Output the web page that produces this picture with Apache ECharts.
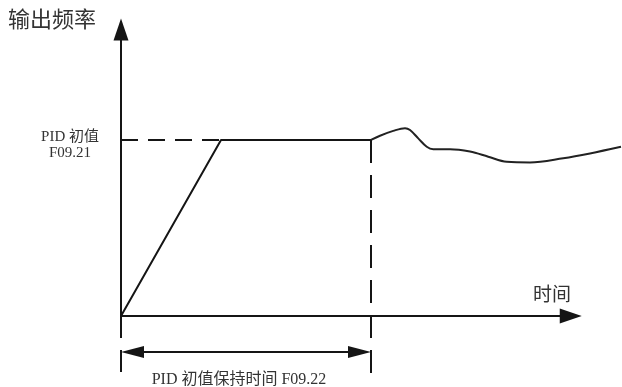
<!DOCTYPE html>
<html>
<head>
<meta charset="utf-8">
<script src="https://cdn.jsdelivr.net/npm/echarts@6/dist/echarts.min.js"></script>
<style>
  html, body { margin: 0; padding: 0; background: #fff; }
  #main { width: 622px; height: 387px; }
</style>
</head>
<body>
<div id="main"></div>
<script>
// time axis: 0..20, frequency axis: -20..100 (arbitrary units)
const rampTime = [0, 4, 10];
const rampFreq = [0, 58.7, 58.7];
const pidFreq = 58.7;
const holdTime = 10;
const curveTime = [10, 10.36, 10.89, 11.36, 11.56, 11.89, 12.23, 12.49, 13.16, 13.96, 14.69, 15.43, 16.36, 17.69, 18.76, 20];
const curveFreq = [58.7, 60.1, 61.7, 62.6, 62.0, 59.2, 56.4, 55.6, 55.6, 54.8, 53.1, 51.4, 51.2, 52.6, 54.2, 56.4];
const axisTips = [18.43, 99.2];      // x tip (time), y tip (freq)
const guideBottom = -19;            // dashed guides go below the time axis
const spanFreq = -12;               // level of the hold-time double arrow

const FONT = "'Liberation Serif', 'Noto Sans CJK SC', serif";
const INK = '#151515';
const GRID = { left: 121, top: 16, width: 500, height: 360 };
const X_MIN = 0, X_MAX = 20, Y_MIN = -20, Y_MAX = 100;
const pxX = GRID.width / (X_MAX - X_MIN);
const pxY = GRID.height / (Y_MAX - Y_MIN);

const zip = (xs, ys) => xs.map((x, i) => [x, ys[i]]);

const arrowLen = 22, arrowW = 15;
const spanLen = 23, spanW = 12;

const chart = echarts.init(document.getElementById('main'), null, { renderer: 'canvas' });

const plainLine = (data, type, width) => ({
  type: 'line',
  data: data,
  symbol: 'none',
  clip: false,
  silent: true,
  lineStyle: { color: INK, width: width || 2, type: type || 'solid' },
  z: 3
});

chart.setOption({
  animation: false,
  grid: GRID,
  xAxis: { type: 'value', min: X_MIN, max: X_MAX, show: false },
  yAxis: { type: 'value', min: Y_MIN, max: Y_MAX, show: false },
  series: [
    // ramp + hold
    plainLine(zip(rampTime, rampFreq)),
    // output after hold
    Object.assign(plainLine(zip(curveTime, curveFreq)), { smooth: 0.35, lineStyle: { color: '#222', width: 2 } }),
    // dashed guide: PID initial value
    plainLine([[0, pidFreq], [rampTime[1], pidFreq]], [17, 10]),
    // dashed guide: end of hold time
    plainLine([[holdTime, pidFreq], [holdTime, guideBottom]], [23, 12]),
    // dashed extension of y axis below the origin
    Object.assign(plainLine([[0, 0], [0, guideBottom]], [22, 12]), {
      markLine: {
        silent: true,
        animation: false,
        label: { show: false },
        lineStyle: { color: INK, width: 2, type: 'solid' },
        data: [
          [
            { coord: [0, 0], symbol: 'none' },
            { coord: [0, axisTips[1] - arrowLen / 2 / pxY], symbol: 'triangle', symbolSize: [arrowW, arrowLen] }
          ],
          [
            { coord: [0, 0], symbol: 'none' },
            { coord: [axisTips[0] - arrowLen / 2 / pxX, 0], symbol: 'triangle', symbolSize: [arrowW, arrowLen] }
          ],
          [
            { coord: [0 + spanLen / 2 / pxX, spanFreq], symbol: 'triangle', symbolSize: [spanW, spanLen] },
            { coord: [holdTime - spanLen / 2 / pxX, spanFreq], symbol: 'triangle', symbolSize: [spanW, spanLen] }
          ]
        ]
      }
    })
  ],
  graphic: [
    { type: 'text', x: 8, y: 21, style: { text: '输出频率', fontSize: 22, fontFamily: FONT, fill: '#333', verticalAlign: 'middle' } },
    { type: 'text', x: 552, y: 296, style: { text: '时间', fontSize: 19, fontFamily: FONT, fill: '#333', align: 'center', verticalAlign: 'middle' } },
    { type: 'text', x: 70, y: 145, style: { text: 'PID 初值\nF09.21', fontSize: 15, lineHeight: 16, fontFamily: FONT, fill: '#333', align: 'center', verticalAlign: 'middle' } },
    { type: 'text', x: 239, y: 380, style: { text: 'PID 初值保持时间 F09.22', fontSize: 16, fontFamily: FONT, fill: '#333', align: 'center', verticalAlign: 'middle' } }
  ]
});
</script>
</body>
</html>
